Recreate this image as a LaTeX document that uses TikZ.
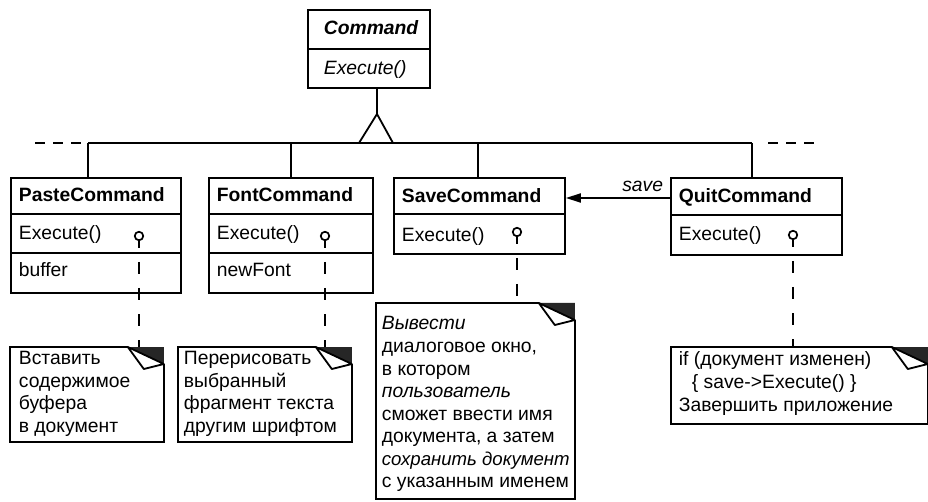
\documentclass[tikz,border=0pt]{standalone}
\usepackage{fontspec}
\setmainfont{Liberation Sans}
\usetikzlibrary{arrows.meta}
\newcommand\dognote[1]{%
  \fill[black!85] ([xshift=-36pt]#1.north east) -- (#1.north east) -- ([yshift=-17pt]#1.north east) -- cycle;
  \draw[fill=white, line join=round] ([xshift=-36pt]#1.north east) -- ([xshift=-20pt,yshift=-22pt]#1.north east) -- ([yshift=-17pt]#1.north east) -- cycle;
  \draw[line join=miter] ([xshift=-36pt]#1.north east) -- (#1.north west) -- (#1.south west) -- (#1.south east) -- ([yshift=-17pt]#1.north east);
}
\begin{document}
\begin{tikzpicture}[x=1pt, y=-1pt, line width=1.8pt,
  box/.style={draw, line width=1.8pt, anchor=north west, inner sep=0pt, fill=white},
  notearea/.style={anchor=north west, inner sep=0pt},
  lbl/.style={anchor=base west, inner sep=0pt, font=\fontsize{19.3}{23}\selectfont},
  bold/.style={lbl, font=\fontsize{19.3}{23}\selectfont\bfseries},
  opc/.style={circle, draw, fill=white, minimum size=8.5pt, inner sep=0pt, line width=1.7pt},
  conn/.style={line width=1.9pt, dash pattern=on 12pt off 14pt},
  busdash/.style={line width=1.8pt, dash pattern=on 10pt off 8pt}]
\path[use as bounding box] (0,0) rectangle (928,502);

% Command
\node[box, minimum width=122pt, minimum height=78pt] (cmd) at (307,9) {};
\draw (cmd.west |- 0,49) -- (cmd.east |- 0,49);
\node[lbl, font=\fontsize{19.3}{23}\selectfont\bfseries\itshape] (cmdname) at (323,35) {Command};
\node[lbl, font=\fontsize{19.3}{23}\selectfont\itshape] (cmdop) at (323,75) {Execute()};

% inheritance
\coordinate (apex) at (377,114);
\coordinate (tl) at (359,143);
\coordinate (tr) at (393,143);
\coordinate (busL) at (88,143);
\coordinate (busR) at (752,143);
\coordinate (busLL) at (35,143);
\coordinate (busRR) at (768,143);
\coordinate (busRE) at (816,143);
\draw (cmd.south -| apex) -- (apex);
\draw (busL) -- (busR);
\draw[busdash] (busLL) -- (busL);
\draw[busdash] (busRR) -- (busRE);
\draw[fill=white, line join=miter] (apex) -- (tl) -- (tr) -- cycle;

% classes
\node[box, minimum width=170pt, minimum height=115pt] (paste) at (10,177) {};
\node[box, minimum width=164pt, minimum height=115pt] (font) at (208,177) {};
\node[box, minimum width=171pt, minimum height=76pt] (save) at (393,177) {};
\node[box, minimum width=171pt, minimum height=77pt] (quit) at (670,177) {};

\draw (busL) -- (busL |- paste.north);
\draw (font.north |- busL) -- (font.north);
\draw ([xshift=-1.5pt]save.north |- busL) -- ([xshift=-1.5pt]save.north);
\draw (busR) -- (busR |- quit.north);

\draw (paste.west |- 0,214) -- (paste.east |- 0,214);
\draw (paste.west |- 0,253) -- (paste.east |- 0,253);
\draw (font.west |- 0,214) -- (font.east |- 0,214);
\draw (font.west |- 0,253) -- (font.east |- 0,253);
\draw (save.west |- 0,214) -- (save.east |- 0,214);
\draw (quit.west |- 0,215) -- (quit.east |- 0,215);

\node[bold] (pastename) at (18,202) {PasteCommand};
\node[lbl] (pasteop) at (18,240) {Execute()};
\node[lbl] (pastef) at (18,277) {buffer};
\node[bold] (fontname) at (216,202) {FontCommand};
\node[lbl] (fontop) at (216,240) {Execute()};
\node[lbl] (fontf) at (216,277) {newFont};
\node[bold] (savename) at (401,203) {SaveCommand};
\node[lbl] (saveop) at (401,242) {Execute()};
\node[bold] (quitname) at (678,203) {QuitCommand};
\node[lbl] (quitop) at (678,241) {Execute()};

% association save
\draw[-{Triangle[length=15pt,width=9pt]}] ([yshift=-21pt]quit.north west) -- ([yshift=-21pt]save.north east);
\node[anchor=base east, inner sep=0pt, font=\fontsize{19.3}{23}\selectfont\itshape] (savelbl) at (664,192) {save};

% notes
\node[notearea, minimum width=152pt, minimum height=93pt] (pn) at (10,347) {};
\node[notearea, minimum width=172pt, minimum height=93pt] (fn) at (178,347) {};
\node[notearea, minimum width=197pt, minimum height=194pt] (sn) at (376,303) {};
\node[notearea, minimum width=255pt, minimum height=75pt] (qn) at (671,347) {};

% note connectors
\coordinate (pcp) at (139,236);
\coordinate (fcp) at (325,236);
\coordinate (scp) at (517,232);
\coordinate (qcp) at (793,235);
\draw[conn] (pcp) -- (pcp |- pn.north);
\draw[conn] (fcp) -- (fcp |- fn.north);
\draw[conn] (scp) -- (scp |- sn.north);
\draw[conn] (qcp) -- (qcp |- qn.north);
\node[opc] (pc) at (pcp) {};
\node[opc] (fc) at (fcp) {};
\node[opc] (sc) at (scp) {};
\node[opc] (qc) at (qcp) {};

\dognote{pn}
\dognote{fn}
\dognote{sn}
\dognote{qn}

\node[lbl] (p1) at (18,364) {Вставить};
\node[lbl] (p2) at (18,387) {содержимое};
\node[lbl] (p3) at (18,409) {буфера};
\node[lbl] (p4) at (18,432) {в документ};

\node[lbl] (f1) at (183,364) {Перерисовать};
\node[lbl] (f2) at (183,387) {выбранный};
\node[lbl] (f3) at (183,409) {фрагмент текста};
\node[lbl] (f4) at (183,432) {другим шрифтом};

\node[lbl, font=\fontsize{19.3}{23}\selectfont\itshape] (s1) at (381,330) {Вывести};
\node[lbl] (s2) at (381,352.5) {диалоговое окно,};
\node[lbl] (s3) at (381,375) {в котором};
\node[lbl, font=\fontsize{19.3}{23}\selectfont\itshape] (s4) at (381,397.5) {пользователь};
\node[lbl] (s5) at (381,420) {сможет ввести имя};
\node[lbl] (s6) at (381,442.5) {документа, а затем};
\node[lbl, font=\fontsize{18.6}{23}\selectfont\itshape] (s7) at (381,465) {сохранить документ};
\node[lbl] (s8) at (381,487.5) {с указанным именем};

\node[lbl] (q1) at (678,365) {if (документ изменен)};
\node[lbl] (q2) at (691,388) {\{ save->Execute() \}};
\node[lbl] (q3) at (678,411) {Завершить приложение};
\end{tikzpicture}
\end{document}
